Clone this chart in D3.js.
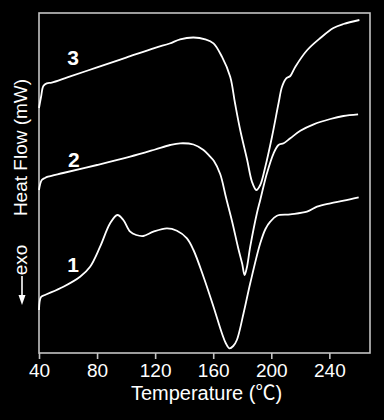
<!DOCTYPE html>
<html>
<head>
<meta charset="utf-8">
<script src="https://cdnjs.cloudflare.com/ajax/libs/d3/7.8.5/d3.min.js"></script>
<style>
    body { margin: 0; background: #000; }
    svg { display: block; }
    .tick text, .lbl { font-family: "Liberation Sans", Arial, "Noto Sans CJK SC", sans-serif; fill: #fff; }
</style>
</head>
<body>
<div id="chart"></div>
<script>
    // temperature (°C), heat flow (arbitrary units, exo down)
    const curve1 = [[40,43],[41.4,56],[44.1,58],[56.8,66.3],[68.3,76.3],[75.2,86.3],[82.1,106.3],[89,129.7],[94,138],[98.1,133],
        [102.8,121.3],[107,118],[111.9,117],[118.8,121.3],[128.1,124.7],[135,122.3],[141.9,114.7],[146.4,103],[153.3,76.3],
        [160.2,46.3],[166,19.7],[168.6,10],[171.2,4.7],[173.8,7],[176.3,13],[180.9,39.7],[185.5,69.7],[192.4,109.7],
        [196,124],[199.3,131.3],[203.9,137.3],[213.1,138.7],[224.6,141.3],[231.5,146.3],[240.7,149.7],[249.9,152.3],[260.2,155.7]];
    const curve2 = [[40,163],[41.9,173],[44.1,175],[46.2,176.3],[56.6,180],[80,188],[102.8,196.3],[120,203.5],[130.3,208],
        [137.2,209.7],[146.4,208.5],[153.3,203],[157.9,196.3],[160.5,192],[164.8,179],[168.9,155],[173.1,131],[177.2,105],
        [180,89],[181.6,78],[183.1,85],[185.5,106.3],[190.1,139.7],[192.4,153],[197,179.7],[201.6,199.7],[205,208],
        [208.5,209.7],[213.1,214.7],[220,222.3],[229.2,228.7],[240.7,234],[249.7,237],[259.8,238.7]];
    const curve3 = [[40,245],[41.4,256],[43,267],[45.3,269.7],[48.8,270.3],[60,275.8],[80,285.6],[100,295.4],[120,305.2],
        [130,309.5],[137.2,313.7],[146.4,315.5],[154.5,313.7],[160.2,309.7],[166,296.3],[171.7,276.3],[175,250],[178.6,223],
        [183.4,193],[186.7,171.3],[189.7,163],[192.4,168],[195.9,186.3],[200.5,216.3],[205,249.7],[207.4,266.3],[210.3,274.7],
        [213.1,277],[216.6,286.3],[224.8,303],[233.8,315],[242.8,325],[249.7,329],[260.7,333]];
    const curves = [curve1, curve2, curve3];
    const curveNames = ["1", "2", "3"];
    const namePos = [[63.4, 81], [64, 186], [63.4, 288]];
    const xTicks = [40, 80, 120, 160, 200, 240];

    const W = 384, H = 420;
    const margin = {top: 13, right: 14, bottom: 67, left: 39};
    const width = W - margin.left - margin.right;
    const height = H - margin.top - margin.bottom;

    const svg = d3.select("#chart").append("svg")
        .attr("width", W).attr("height", H);
    svg.append("rect").attr("width", W).attr("height", H).attr("fill", "#000");

    const g = svg.append("g").attr("transform", `translate(${margin.left},${margin.top})`);

    const x = d3.scaleLinear().domain([40, 268]).range([0, width]);
    const y = d3.scaleLinear().domain([0, 340]).range([height, 0]);

    // frame
    g.append("rect")
        .attr("width", width).attr("height", height)
        .attr("fill", "none").attr("stroke", "#c4c4c4").attr("stroke-width", 1.6);

    const xAxis = g.append("g")
        .attr("transform", `translate(0,${height})`)
        .call(d3.axisBottom(x).tickValues(xTicks).tickSize(6).tickSizeOuter(0).tickPadding(5));
    xAxis.select(".domain").remove();
    xAxis.selectAll(".tick line").attr("stroke", "#c4c4c4").attr("stroke-width", 1.6);
    xAxis.selectAll(".tick text").attr("font-size", 19).attr("dy", "0.71em");

    const line = d3.line()
        .x(d => x(d[0]))
        .y(d => y(d[1]))
        .curve(d3.curveCatmullRom.alpha(0.5));

    g.selectAll(".curve").data(curves).join("path")
        .attr("class", "curve")
        .attr("d", line)
        .attr("fill", "none")
        .attr("stroke", "#fff")
        .attr("stroke-width", 1.8);

    g.selectAll(".name").data(curveNames).join("text")
        .attr("class", "lbl")
        .attr("x", (d, i) => x(namePos[i][0]))
        .attr("y", (d, i) => y(namePos[i][1]))
        .attr("text-anchor", "middle")
        .attr("font-size", 21).attr("font-weight", "bold")
        .text(d => d);

    svg.append("text").attr("class", "lbl")
        .attr("x", margin.left + width / 2 + 2).attr("y", 400)
        .attr("text-anchor", "middle").attr("font-size", 20)
        .text("Temperature (℃)");

    svg.append("text").attr("class", "lbl")
        .attr("transform", "translate(27,147.5) rotate(-90)")
        .attr("text-anchor", "middle").attr("font-size", 19)
        .text("Heat Flow (mW)");

    svg.append("text").attr("class", "lbl")
        .attr("transform", "translate(27,260) rotate(-90)")
        .attr("text-anchor", "middle").attr("font-size", 19)
        .text("exo");

    // exo arrow
    svg.append("line").attr("x1", 22).attr("x2", 22).attr("y1", 276).attr("y2", 298)
        .attr("stroke", "#fff").attr("stroke-width", 1.6);
    svg.append("path").attr("d", "M18.5,295 L25.5,295 L22,305 Z").attr("fill", "#fff");
</script>
</body>
</html>
